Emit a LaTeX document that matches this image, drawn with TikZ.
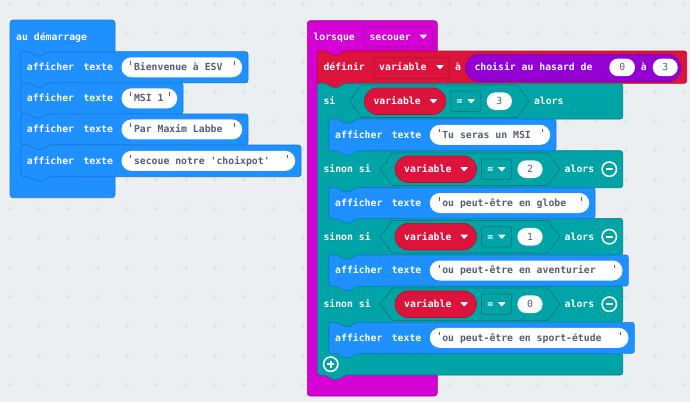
\documentclass[tikz,border=0pt]{standalone}
\usepackage{fontspec}
\setmonofont{DejaVu Sans Mono}
\definecolor{bgc}{HTML}{ECEFF1}
\definecolor{gridc}{HTML}{DEE2E6}
\definecolor{mcblue}{HTML}{1E90FF}
\definecolor{mcbluedk}{HTML}{1A77D2}
\definecolor{mcmag}{HTML}{D400D4}
\definecolor{mcmagdk}{HTML}{A600A6}
\definecolor{mcred}{HTML}{DC143C}
\definecolor{mcreddk}{HTML}{AE1030}
\definecolor{mcpur}{HTML}{9400D3}
\definecolor{mcpurdk}{HTML}{7400A6}
\definecolor{mcteal}{HTML}{00A4A6}
\definecolor{mctealdk}{HTML}{007F81}
\definecolor{txtg}{HTML}{575E75}
\definecolor{qred}{HTML}{B23A3A}
\tikzset{
  blkfont/.style={font=\ttfamily\bfseries\fontsize{9.8}{11}\selectfont},
  lbl/.style={blkfont, anchor=base west, inner sep=0pt, text=white},
  ptxt/.style={blkfont, anchor=base west, inner sep=0pt, text=txtg},
  ntxt/.style={font=\ttfamily\fontsize{9.8}{11}\selectfont, anchor=base, inner sep=0pt, text=txtg},
  blueblk/.style={fill=mcblue, draw=mcbluedk, line width=0.6pt, rounded corners=2.5pt},
  magblk/.style={fill=mcmag, draw=mcmagdk, line width=0.6pt, rounded corners=3pt},
  redblk/.style={fill=mcred, draw=mcreddk, line width=0.6pt, rounded corners=2.5pt},
  tealblk/.style={fill=mcteal, draw=mctealdk, line width=0.6pt, rounded corners=2.5pt},
  hexs/.style={fill=mcteal, draw=mctealdk, line width=0.7pt},
  redpill/.style={fill=mcred, draw=mcreddk, line width=0.6pt, rounded corners=13.3pt},
  tealdd/.style={fill=mcteal, draw=mctealdk, line width=0.7pt, rounded corners=2pt},
  reddd/.style={fill=mcred, draw=mcreddk, line width=0.7pt, rounded corners=2pt},
  magdd/.style={fill=mcmag, draw=mcmagdk, line width=0.7pt, rounded corners=2pt},
  purpill/.style={fill=mcpur, draw=mcpurdk, line width=0.6pt, rounded corners=13.6pt},
  numpill/.style={fill=white, rounded corners=8.6pt},
  iconring/.style={draw=white, line width=1.6pt},
  iconbar/.style={draw=white, line width=2pt},
}
\newcommand{\ddarrow}[2]{\fill[white, rounded corners=0.6pt] (#1-4,#2-2.2) -- (#1+4,#2-2.2) -- (#1,#2+2.4) -- cycle;}
\newcommand{\stmtshape}[5]{\path[#5] (#1,#2) -- (#1+8,#2) -- (#1+15.5,#2+4.5) -- (#1+20.5,#2+4.5) -- (#1+28,#2) -- (#3,#2) -- (#3,#4) -- (#1+28,#4) -- (#1+20.5,#4+4.5) -- (#1+15.5,#4+4.5) -- (#1+8,#4) -- (#1,#4) -- cycle;}
\newcommand{\strpill}[5]{%
  \fill[white, rounded corners=9.9pt] (#1,#3-10) rectangle (#2,#3+10);
  \fill[qred] (#1+8.7,#3-6) rectangle (#1+9.9,#3-2.5);
  \fill[qred] (#2-8.3,#3-6) rectangle (#2-7.1,#3-2.5);
  \node[ptxt] (#4) at (#1+12.3,#3+3.4) {#5};
}
\newcommand{\affrow}[6]{%
  \stmtshape{#1}{#2}{#3}{#4}{blueblk}
  \pgfmathsetmacro{\mycy}{(#2+#4)/2}
  \node[lbl] (#5a) at (#1+6,\mycy+3.4) {afficher};
  \node[lbl] (#5b) at (#1+62.6,\mycy+3.4) {texte};
  \strpill{#1+100.8}{#3-5.8}{\mycy}{#5p}{#6}
}
\newcommand{\condrow}[4]{%
  \path[hexs] (#1,#2) -- (#1+12.4,#2-16.2) -- (#1+167.6,#2-16.2) -- (#1+180,#2) -- (#1+167.6,#2+16.2) -- (#1+12.4,#2+16.2) -- cycle;
  \path[redpill] (#1+15,#2-13.3) rectangle (#1+96.5,#2+13.3);
  \node[lbl] (#3v) at (#1+24,#2+3.4) {variable};
  \ddarrow{#1+84.2}{#2}
  \path[tealdd] (#1+101.5,#2-10.3) rectangle (#1+131.5,#2+10.3);
  \node[lbl] (#3e) at (#1+107.2,#2+3.4) {=};
  \ddarrow{#1+121.8}{#2}
  \path[numpill] (#1+137.4,#2-8.8) rectangle (#1+162.6,#2+8.8);
  \node[ntxt] (#3n) at (#1+150,#2+3.4) {#4};
  \node[lbl] (#3al) at (#1+184.5,#2+3.4) {alors};
}
\newcommand{\minusicon}[2]{%
  \draw[iconring] (#1,#2) circle (7.2pt);
  \draw[iconbar] (#1-3.8,#2) -- (#1+3.8,#2);
}
\begin{document}
\begin{tikzpicture}[x=1pt,y=-1pt]
\useasboundingbox (0,0) rectangle (690,402);
\fill[bgc] (0,0) rectangle (690,402);
\foreach \i in {0,...,23} \foreach \j in {0,...,13} {
  \draw[gridc, line width=0.6pt] (10+29.33*\i-2.5, 3.3+29.33*\j) -- ++(5,0)
        (10+29.33*\i, 3.3+29.33*\j-2.5) -- ++(0,5);
}
% ---------- left: au demarrage ----------
\path[blueblk, rounded corners=3pt] (10,20) rectangle (115,197.7);
\node[lbl] (start) at (16,40.1) {au démarrage};
\affrow{20.7}{51.7}{248}{82.8}{l1}{Bienvenue à ESV}
\affrow{20.7}{82.8}{183}{113.9}{l2}{MSI 1}
\affrow{20.7}{113.9}{248}{145}{l3}{Par Maxim Labbe}
\affrow{20.7}{145}{301}{176.7}{l4}{secoue notre 'choixpot'}
% ---------- right: lorsque secouer ----------
\path[magblk] (307.3,20.7) rectangle (437.3,396);
\node[lbl] (when) at (313.3,40.1) {lorsque};
\path[magdd] (363.3,26.7) rectangle (432.7,46.7);
\node[lbl] (shake) at (369.3,40.1) {secouer};
\ddarrow{423.3}{36.7}
% definir
\stmtshape{317.3}{51}{686.7}{83.3}{redblk}
\node[lbl] (set) at (323.3,70.6) {définir};
\path[reddd] (374,57.7) rectangle (449.3,78.3);
\node[lbl] (setvar) at (379,70.6) {variable};
\ddarrow{440}{67.2}
\node[lbl] (seta) at (455,70.6) {à};
\path[purpill] (465.7,54.3) rectangle (681,81.7);
\node[lbl] (rand) at (474.3,70.6) {choisir au hasard de};
\path[numpill] (609.3,58.6) rectangle (635,76.2);
\node[ntxt] (randlo) at (622.2,70.6) {0};
\node[lbl] (randa) at (640.7,70.6) {à};
\path[numpill] (652.7,58.6) rectangle (677.7,76.2);
\node[ntxt] (randhi) at (665.2,70.6) {3};
% teal if / else-if block
\path[tealblk] (317.3,83.3) -- (325.3,83.3) -- (332.8,87.8) -- (337.8,87.8) -- (345.3,83.3) -- (622.7,83.3) -- (622.7,119)
  -- (357,119) -- (349.5,123.5) -- (344.5,123.5) -- (337,119) -- (329,119) -- (329,150.7) -- (622.7,150.7) -- (622.7,187.7)
  -- (357,187.7) -- (349.5,192.2) -- (344.5,192.2) -- (337,187.7) -- (329,187.7) -- (329,218.3) -- (622.7,218.3) -- (622.7,255)
  -- (357,255) -- (349.5,259.5) -- (344.5,259.5) -- (337,255) -- (329,255) -- (329,286) -- (622.7,286) -- (622.7,322.3)
  -- (357,322.3) -- (349.5,326.8) -- (344.5,326.8) -- (337,322.3) -- (329,322.3) -- (329,353.3) -- (622.7,353.3) -- (622.7,375)
  -- (345.3,375) -- (337.8,379.5) -- (332.8,379.5) -- (325.3,375) -- (317.3,375) -- cycle;
\node[lbl] (if) at (323.3,104.6) {si};
\condrow{349.3}{101.2}{c3}{3}
\node[lbl] (elif2) at (323.3,172.6) {sinon si};
\condrow{380}{169.2}{c2}{2}
\minusicon{609.3}{169.2}
\node[lbl] (elif1) at (323.3,240.1) {sinon si};
\condrow{380}{236.7}{c1}{1}
\minusicon{609.3}{236.7}
\node[lbl] (elif0) at (323.3,307.6) {sinon si};
\condrow{380}{304.2}{c0}{0}
\minusicon{609.3}{304.2}
% inner show-string blocks
\affrow{329}{119}{556}{150.7}{r3}{Tu seras un MSI}
\affrow{329}{187.7}{595}{218.3}{r2}{ou peut-être en globe}
\affrow{329}{255}{628.3}{286}{r1}{ou peut-être en aventurier}
\affrow{329}{322.3}{634.3}{353.3}{r0}{ou peut-être en sport-étude}
% plus icon
\draw[iconring] (330.7,364.2) circle (7.2pt);
\draw[iconbar] (327,364.2) -- (334.4,364.2) (330.7,360.5) -- (330.7,367.9);
\end{tikzpicture}
\end{document}
